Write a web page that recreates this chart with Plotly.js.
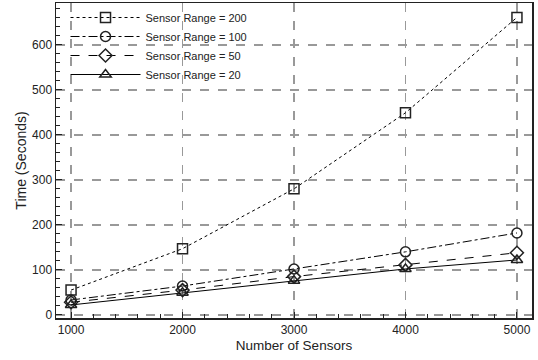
<!DOCTYPE html>
<html><head><meta charset="utf-8">
<script src="https://cdn.plot.ly/plotly-3.0.1.min.js"></script>
<style>body{margin:0;background:#fff}#c{width:538px;height:360px}</style>
</head><body><div id="c"></div>
<script>
const sensors = [1000, 2000, 3000, 4000, 5000];
const range200 = [55, 147, 280, 449, 661];
const range100 = [33, 64, 102, 140, 182];
const range50 = [28, 55, 85, 111, 138];
const range20 = [22, 49, 76, 102, 122];
const seriesNames = ['Sensor Range = 200', 'Sensor Range = 100', 'Sensor Range = 50', 'Sensor Range = 20'];

const mk = (y, name, dash, sym) => ({
  x: sensors, y: y, name: name, type: 'scatter', mode: 'lines+markers',
  line: {color: '#000', width: 1, dash: dash},
  marker: {symbol: sym, size: 10, color: '#222', line: {width: 1.5, color: '#222'}}
});
const data = [
  mk(range200, seriesNames[0], 'dot', 'square-open'),
  mk(range100, seriesNames[1], 'dashdot', 'circle-open'),
  mk(range50, seriesNames[2], 'dash', 'diamond-open'),
  mk(range20, seriesNames[3], 'solid', 'triangle-up-open')
];
const fam = 'Liberation Sans, Arial';
const axisCommon = {
  showline: true, linecolor: '#222', linewidth: 1.5, mirror: true,
  ticks: 'inside', ticklen: 6, tickcolor: '#222',
  showgrid: true, gridcolor: '#999', griddash: 'dash', gridwidth: 1.3,
  zeroline: false, tickfont: {family: fam, size: 12, color: '#222'}
};
const layout = {
  width: 538, height: 360,
  margin: {l: 56, r: 6, t: 3, b: 42},
  paper_bgcolor: '#fff', plot_bgcolor: '#fff',
  showlegend: true,
  legend: {x: 0.02, y: 1.0, xanchor: 'left', yanchor: 'top', bgcolor: 'rgba(0,0,0,0)',
    itemwidth: 70, tracegroupgap: 0,
    font: {family: fam, size: 11, color: '#222'}},
  xaxis: Object.assign({}, axisCommon, {
    range: [865, 5135], tickvals: [1000, 2000, 3000, 4000, 5000],
    minor: {ticks: 'inside', dtick: 200, tick0: 1000, ticklen: 4, tickcolor: '#222', showgrid: false},
    title: {text: 'Number of Sensors', font: {family: fam, size: 13.5, color: '#222'}, standoff: 4}
  }),
  yaxis: Object.assign({}, axisCommon, {
    range: [-7, 693], tickvals: [0, 100, 200, 300, 400, 500, 600],
    minor: {ticks: 'inside', dtick: 20, tick0: 0, ticklen: 4, tickcolor: '#222', showgrid: false},
    title: {text: 'Time (Seconds)', font: {family: fam, size: 14, color: '#222'}, standoff: 2}
  })
};
Plotly.newPlot('c', data, layout, {staticPlot: true});
</script></body></html>
